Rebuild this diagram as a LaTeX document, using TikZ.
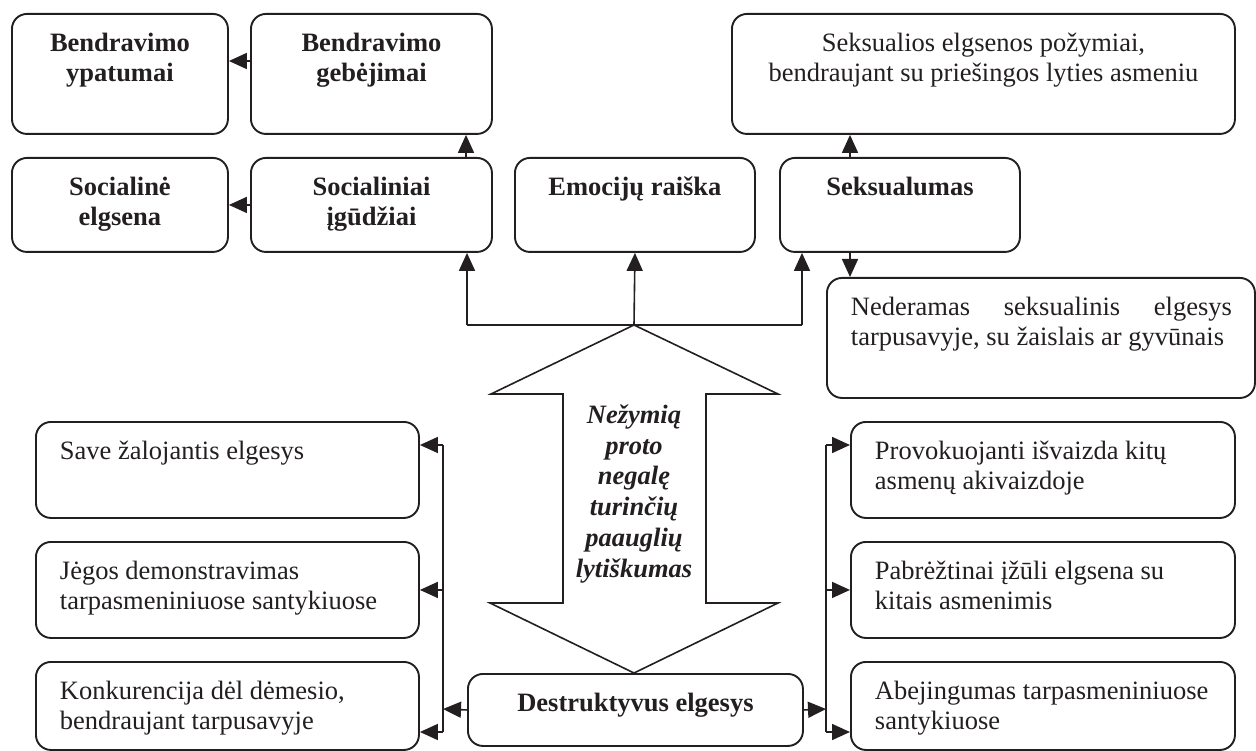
\documentclass[tikz,border=0pt]{standalone}
\usepackage{fontspec}
\setmainfont{Liberation Serif}
\usetikzlibrary{arrows.meta}
\definecolor{ink}{RGB}{35,31,32}
\newcommand{\bt}[4]{\parbox[t][#2][t]{#1}{#3\rule{0pt}{38pt}#4}}
\begin{document}
\begin{tikzpicture}[x=1pt,y=-1pt,
  every node/.style={text=ink, font=\fontsize{26.5}{30}\selectfont},
  bx/.style={draw=ink, line width=1.9pt, rounded corners=15pt, inner sep=0pt, anchor=north west},
  arr/.style={draw=ink, line width=1.6pt, -{Triangle[length=18pt,width=16pt]}},
  ln/.style={draw=ink, line width=1.6pt}]
\useasboundingbox (0,0) rectangle (1256,751);

% top rows
\node[bx] (ypat) at (11,13) {\bt{216pt}{120pt}{\centering\bfseries}{Bendravimo\\ypatumai}};
\node[bx] (gebe) at (250,13) {\bt{241pt}{120pt}{\centering\bfseries}{Bendravimo\\gebėjimai}};
\node[bx] (sekp) at (731,13) {\bt{503pt}{120pt}{\centering}{Seksualios elgsenos požymiai,\\bendraujant su priešingos lyties asmeniu}};
\node[bx] (socel) at (11,157) {\bt{216pt}{94pt}{\centering\bfseries}{Socialinė\\elgsena}};
\node[bx] (socig) at (250,157) {\bt{241pt}{94pt}{\centering\bfseries}{Socialiniai\\įgūdžiai}};
\node[bx] (emo) at (514,157) {\bt{240pt}{94pt}{\centering\bfseries}{Emocijų raiška}};
\node[bx] (seks) at (779,157) {\bt{240pt}{94pt}{\centering\bfseries}{Seksualumas}};
\node[bx] (neder) at (826,277) {\bt{428pt}{120pt}{\leftskip=24pt\rightskip=23pt}{Nederamas seksualinis elgesys\linebreak tarpusavyje, su žaislais ar gyvūnais}};

% lower boxes
\node[bx] (save) at (35,421) {\bt{383pt}{96pt}{\raggedright\leftskip=24pt}{Save žalojantis elgesys}};
\node[bx] (jeg) at (35,541) {\bt{383pt}{96pt}{\raggedright\leftskip=24pt}{Jėgos demonstravimas\\tarpasmeniniuose santykiuose}};
\node[bx] (konk) at (35,661) {\bt{383pt}{88pt}{\raggedright\leftskip=24pt}{Konkurencija dėl dėmesio,\\bendraujant tarpusavyje}};
\node[bx] (prov) at (850,421) {\bt{384pt}{96pt}{\raggedright\leftskip=24pt}{Provokuojanti išvaizda kitų\\asmenų akivaizdoje}};
\node[bx] (pabr) at (850,541) {\bt{384pt}{96pt}{\raggedright\leftskip=24pt}{Pabrėžtinai įžūli elgsena su\\kitais asmenimis}};
\node[bx] (abej) at (850,661) {\bt{384pt}{88pt}{\raggedright\leftskip=24pt}{Abejingumas tarpasmeniniuose\\santykiuose}};
\node[bx] (destr) at (467,673) {\bt{335pt}{72pt}{\centering\bfseries}{Destruktyvus elgesys}};

% big double arrow
\coordinate (tipT) at (634,325);
\coordinate (tipB) at (634,673);
\draw[ln] (tipT) -- (778,394) -- (706,394) -- (706,603) -- (778,603) -- (tipB)
  -- (490,603) -- (563,603) -- (563,394) -- (491,394) -- cycle;
\node[anchor=north, inner sep=0pt] (lyt) at (634,394) {\parbox[t]{140pt}{\centering\bfseries\itshape\fontsize{26.5}{30.8}\selectfont\rule{0pt}{29pt}Nežymią\\proto\\negalę\\turinčių\\paauglių\\lytiškumas}};

% connectors top
\coordinate (hl) at (467,325);
\coordinate (hr) at (802,325);
\draw[ln] (hl) -- (hr);
\draw[arr] (tipT) -- (emo.south);
\draw[arr] (hl) -- (hl |- socig.south);
\draw[arr] (hr) -- (hr |- seks.south);
\coordinate (y61) at (0,61);
\draw[arr] (gebe.west |- y61) -- (ypat.east |- y61);
\draw[arr] (socig.west) -- (socel.east);
\coordinate (x466) at (466,0);
\draw[arr] (socig.north -| x466) -- (gebe.south -| x466);
\coordinate (x850) at (850,0);
\draw[arr] (seks.north -| x850) -- (sekp.south -| x850);
\draw[arr] (seks.south -| x850) -- (neder.north -| x850);

% connectors bottom
\coordinate (lj) at (443,709);
\coordinate (rj) at (826,709);
\draw[arr] (destr.west) -- (lj);
\draw[arr] (destr.east) -- (rj);
\coordinate (lt) at (443,445);
\coordinate (lb) at (443,732);
\coordinate (rt) at (826,445);
\coordinate (rb) at (826,732);
\draw[ln] (lt) -- (lb);
\draw[ln] (rt) -- (rb);
\draw[arr] (lt) -- (lt -| save.east);
\draw[arr] (lt |- jeg.east) -- (jeg.east);
\draw[arr] (lb) -- (lb -| konk.east);
\draw[arr] (rt) -- (rt -| prov.west);
\draw[arr] (rt |- pabr.west) -- (pabr.west);
\draw[arr] (rb) -- (rb -| abej.west);
\end{tikzpicture}
\end{document}
